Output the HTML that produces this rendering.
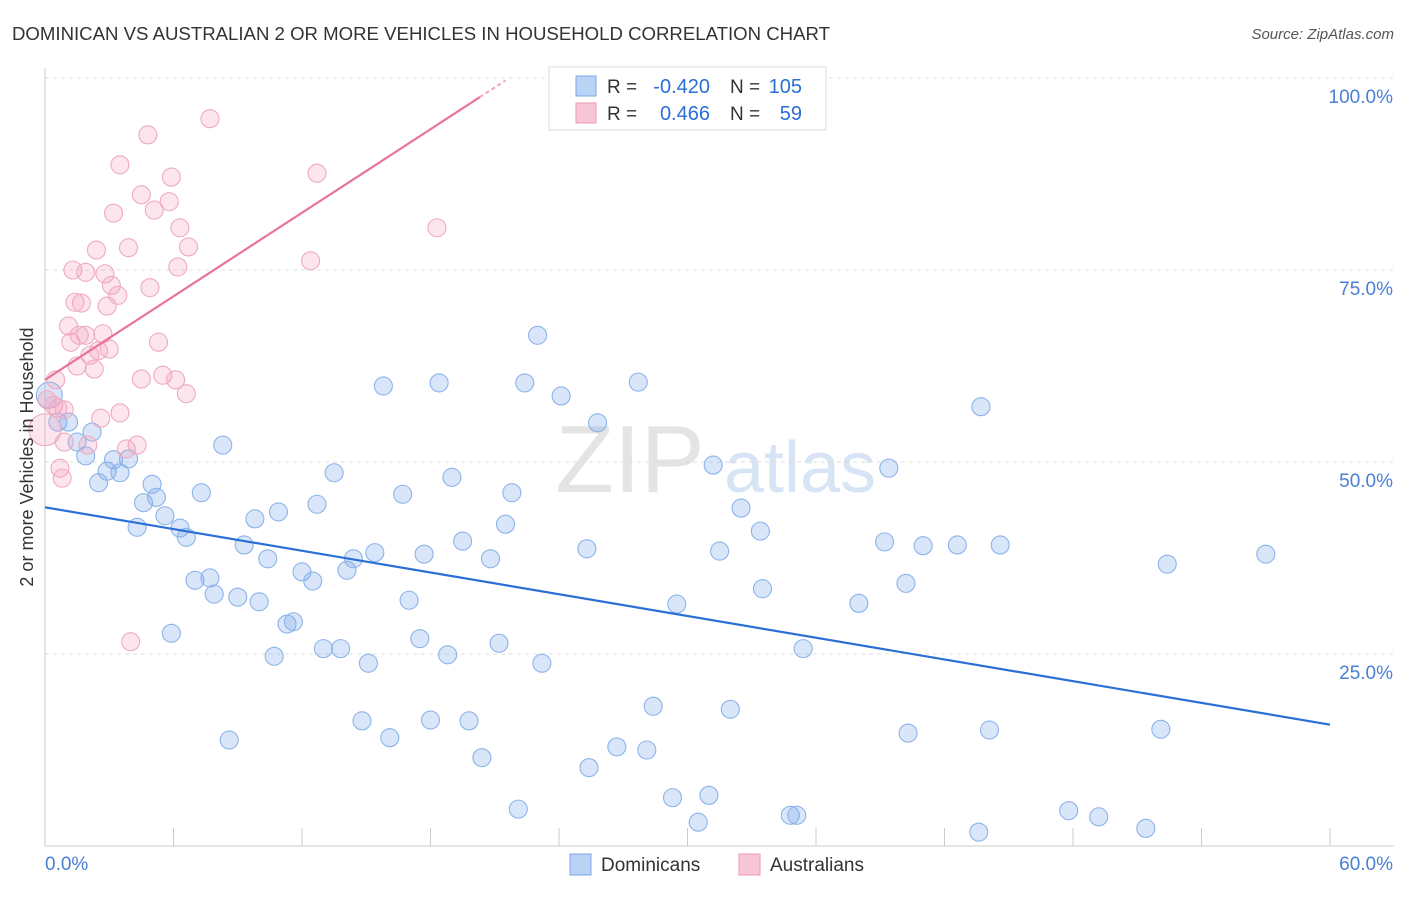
<!DOCTYPE html>
<html><head><meta charset="utf-8"><style>
body{margin:0;background:#fff;font-family:"Liberation Sans",sans-serif;}
svg text{font-family:"Liberation Sans",sans-serif;}
</style></head><body>
<svg id="chart" width="1406" height="892" xmlns="http://www.w3.org/2000/svg">
<text x="12" y="40" font-size="18" fill="#333" textLength="818" lengthAdjust="spacingAndGlyphs">DOMINICAN VS AUSTRALIAN 2 OR MORE VEHICLES IN HOUSEHOLD CORRELATION CHART</text>
<text x="1394" y="39" font-size="15" fill="#555" text-anchor="end" font-style="italic">Source: ZipAtlas.com</text>
<text x="630" y="492" font-size="96" fill="#e4e4e4" font-family="Liberation Serif" text-anchor="middle">ZIP</text>
<text x="800" y="492" font-size="72" fill="#d6e4f5" text-anchor="middle">atlas</text>
<g id="grid"></g>
<g id="axes"></g>
<g id="marks"></g>
<text transform="translate(33,457) rotate(-90)" font-size="18" fill="#333" text-anchor="middle">2 or more Vehicles in Household</text>
<g>
<rect x="549" y="67" width="277" height="63" fill="#fff" stroke="#ddd"/>
<rect x="576" y="76" width="20" height="20" fill="#b9d3f5" stroke="#7aa7e6"/>
<rect x="576" y="103" width="20" height="20" fill="#f8c6d6" stroke="#ec9ab5"/>
<text x="607" y="93" font-size="19" fill="#333">R =</text>
<text x="710" y="93" font-size="20" fill="#2a6fd6" text-anchor="end">-0.420</text>
<text x="730" y="93" font-size="19" fill="#333">N =</text>
<text x="802" y="93" font-size="20" fill="#2a6fd6" text-anchor="end">105</text>
<text x="607" y="120" font-size="19" fill="#333">R =</text>
<text x="710" y="120" font-size="20" fill="#2a6fd6" text-anchor="end">0.466</text>
<text x="730" y="120" font-size="19" fill="#333">N =</text>
<text x="802" y="120" font-size="20" fill="#2a6fd6" text-anchor="end">59</text>
</g>
<g>
<rect x="570" y="854" width="21" height="21" fill="#b9d3f5" stroke="#7aa7e6"/>
<text x="601" y="871" font-size="19" fill="#333">Dominicans</text>
<rect x="739" y="854" width="21" height="21" fill="#f8c6d6" stroke="#ec9ab5"/>
<text x="770" y="871" font-size="19" fill="#333">Australians</text>
</g>
</svg>
<script>
const blueX=[0.2,0.6,1.1,1.5,1.9,2.2,2.5,2.9,3.2,3.5,3.9,4.3,4.6,5.0,5.2,5.6,5.9,6.3,6.6,7.0,7.3,7.7,7.9,8.3,8.6,9.0,9.3,9.8,10.0,10.4,10.7,10.9,11.3,11.6,12.0,12.5,12.7,13.0,13.5,13.8,14.1,14.4,14.8,15.1,15.4,15.8,16.1,16.7,17.0,17.7,18.0,17.5,18.4,18.8,19.0,19.5,19.8,20.4,20.8,21.2,21.5,21.8,22.1,22.4,23.2,24.1,25.3,25.4,25.8,26.7,28.1,28.4,29.5,29.3,30.5,31.0,31.2,31.5,32.0,32.5,33.4,33.5,34.8,35.1,35.4,38.0,39.2,39.4,40.2,40.3,41.0,42.6,43.6,43.7,44.1,44.6,47.8,49.2,51.4,52.1,52.4,57.0,23.0,27.7];
const blueY=[58.7,55.2,55.2,52.6,50.8,53.9,47.3,48.8,50.3,48.6,50.4,41.5,44.7,47.1,45.4,43.0,27.7,41.4,40.2,34.6,46.0,34.9,32.8,52.2,13.8,32.4,39.2,42.6,31.8,37.4,24.7,43.5,28.9,29.2,35.7,34.5,44.5,25.7,48.6,25.7,35.9,37.4,16.3,23.8,38.2,59.9,14.1,45.8,32.0,38.0,16.4,27.0,60.3,24.9,48.0,39.7,16.3,11.5,37.4,26.4,41.9,46.0,4.8,60.3,23.8,58.6,38.7,10.2,55.1,12.9,12.5,18.2,31.5,6.3,3.1,6.6,49.6,38.4,17.8,44.0,41.0,33.5,4.0,4.0,25.7,31.6,39.6,49.2,34.2,14.7,39.1,39.2,1.8,57.2,15.1,39.2,4.6,3.8,2.3,15.2,36.7,38.0,66.5,60.4];
const pinkX=[0.0,0.1,0.4,0.6,0.7,0.8,0.9,1.1,1.2,1.3,1.4,1.5,1.6,1.7,1.9,2.0,2.1,2.3,2.4,2.5,2.6,2.7,2.8,2.9,3.0,3.1,3.2,3.4,3.5,3.5,3.8,3.9,4.0,4.3,4.5,4.5,4.8,4.9,5.1,5.3,5.5,5.8,5.9,6.1,6.2,6.3,6.6,6.7,7.7,12.4,12.7,18.3,0.5,0.9,1.9];
const pinkY=[54.2,58.1,57.4,57.0,49.2,47.9,56.8,67.7,65.6,75.0,70.8,62.5,66.5,70.7,74.7,52.2,63.9,62.1,77.6,64.5,55.7,66.7,74.5,70.3,64.7,73.0,82.4,71.7,56.4,88.7,51.7,77.9,26.6,52.2,84.8,60.8,92.6,72.7,82.8,65.6,61.3,83.9,87.1,60.7,75.4,80.5,58.9,78.0,94.7,76.2,87.6,80.5,60.7,52.6,66.5];
const blueTrend=[44.1,15.8];   // y at x=0 and x=60
const pinkTrend=[60.7,97.5,20.3]; // y at 0, y at end, solid end x
const yTicks=[25,50,75,100];
const yTickLabels=["25.0%","50.0%","75.0%","100.0%"];
const xTicks=[0,6,12,18,24,30,36,42,48,54,60];

const NS="http://www.w3.org/2000/svg";
const sx=v=>45+v*21.417, sy=v=>846-v*7.68;
function mk(tag,attrs,parent){const e=document.createElementNS(NS,tag);for(const k in attrs)e.setAttribute(k,attrs[k]);parent.appendChild(e);return e;}
const grid=document.getElementById('grid'),axes=document.getElementById('axes'),marks=document.getElementById('marks');
yTicks.forEach((t,i)=>{
  const l=mk('line',{x1:45,x2:1394,y1:sy(t),y2:sy(t),stroke:'#ddd','stroke-dasharray':'4,4'},grid);
  
  
  const tx=mk('text',{x:1393,y:sy(t)+25,'font-size':19,fill:'#4a7fd4','text-anchor':'end'},axes);
  tx.textContent=yTickLabels[i];
  
  
});
const xa=mk('line',{x1:45,x2:1394,y1:846,y2:846,stroke:'#ccc'},axes);


const ya=mk('line',{x1:45,x2:45,y1:68,y2:846,stroke:'#ccc'},axes);


xTicks.forEach(t=>{
  const l=mk('line',{x1:sx(t),x2:sx(t),y1:828,y2:846,stroke:'#ccc'},axes);
  
  
});
const xl0=mk('text',{x:45,y:870,'font-size':19,fill:'#4a7fd4'},axes);xl0.textContent='0.0%';


const xl1=mk('text',{x:1393,y:870,'font-size':19,fill:'#4a7fd4','text-anchor':'end'},axes);xl1.textContent='60.0%';



blueX.forEach((x,i)=>{
  const c=mk('circle',{cx:sx(x),cy:sy(blueY[i]),r:i===0?13:9,fill:'rgba(120,165,235,0.28)',stroke:'#8cb3ea','stroke-width':1.1},marks);
  
  
});
pinkX.forEach((x,i)=>{
  const c=mk('circle',{cx:sx(x),cy:sy(pinkY[i]),r:i===0?16:9,fill:'rgba(244,160,190,0.28)',stroke:'#eeaac2','stroke-width':1.1},marks);
  
  
});
const bl=mk('line',{x1:sx(0),y1:sy(blueTrend[0]),x2:sx(60),y2:sy(blueTrend[1]),stroke:'#2a6fd6','stroke-width':2.2},marks);


const slope=(pinkTrend[1]-pinkTrend[0])/pinkTrend[2];
const pl=mk('line',{x1:sx(0),y1:sy(pinkTrend[0]),x2:sx(pinkTrend[2]),y2:sy(pinkTrend[1]),stroke:'#e8739b','stroke-width':2.2},marks);


const xe=pinkTrend[2]+1.2;
const pd=mk('line',{x1:sx(pinkTrend[2]),y1:sy(pinkTrend[1]),x2:sx(xe),y2:sy(pinkTrend[0]+slope*xe),stroke:'#f0a5bf','stroke-width':2,'stroke-dasharray':'4,3'},marks);


</script>
</body></html>
